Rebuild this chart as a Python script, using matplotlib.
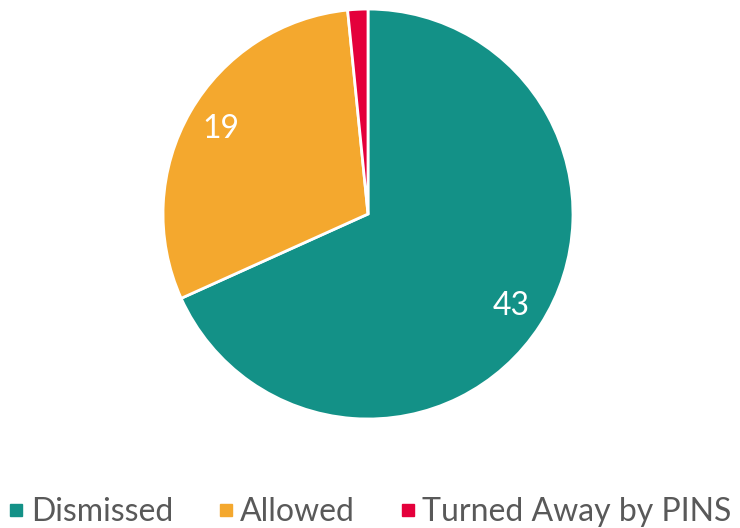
import matplotlib.pyplot as plt
from matplotlib.lines import Line2D

plt.rcParams['font.family'] = ['Lato', 'DejaVu Sans']

categories = ['Dismissed', 'Allowed', 'Turned Away by PINS']
values = [43, 19, 1]
colors = ['#139187', '#F4A82E', '#E4003B']

fig = plt.figure(figsize=(7.4, 5.28), dpi=100)
ax = fig.add_axes([0.2203, 0.2064, 0.554, 0.7765])

total = sum(values)
ax.pie(values, colors=colors, startangle=90, counterclock=False,
       autopct=lambda p: '%d' % round(p * total / 100) if p > 5 else '',
       pctdistance=0.83, textprops=dict(color='white', fontsize=23),
       wedgeprops=dict(edgecolor='white', linewidth=2))
ax.set_xlim(-1.0, 1.0)
ax.set_ylim(-1.0, 1.0)
ax.set_aspect('equal')

handles = [Line2D([], [], marker='s', linestyle='none', markersize=9,
                  markerfacecolor=c, markeredgecolor=c) for c in colors]
fig.legend(handles, categories, loc='lower center', bbox_to_anchor=(0.5, -0.052),
           ncol=3, frameon=False, fontsize=23, labelcolor='#595959',
           handlelength=0.5, handletextpad=0.2, columnspacing=1.4)

fig.savefig('out.png', dpi=100)
